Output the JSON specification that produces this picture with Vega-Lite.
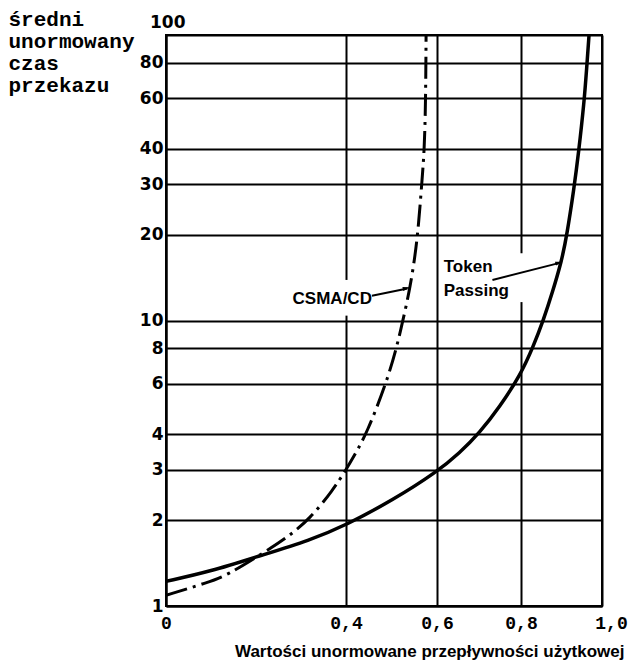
{
  "$schema": "https://vega.github.io/schema/vega-lite/v6.json",
  "autosize": {"type": "none"},
  "width": 436,
  "height": 571,
  "padding": {"left": 166, "top": 35, "right": 28, "bottom": 55},
  "background": "white",
  "config": {"view": {"stroke": "black", "strokeWidth": 2}},
  "datasets": {
    "token": [
      {"x": 0, "y": 1.22}, {"x": 0.098, "y": 1.32}, {"x": 0.209, "y": 1.50},
      {"x": 0.32, "y": 1.70}, {"x": 0.4, "y": 1.92}, {"x": 0.503, "y": 2.35},
      {"x": 0.6, "y": 2.95}, {"x": 0.654, "y": 3.44}, {"x": 0.701, "y": 4.04},
      {"x": 0.75, "y": 5.0}, {"x": 0.8, "y": 6.5}, {"x": 0.83, "y": 8.1},
      {"x": 0.855, "y": 10.0}, {"x": 0.878, "y": 12.6}, {"x": 0.9, "y": 16.1},
      {"x": 0.913, "y": 19.8}, {"x": 0.931, "y": 29.1}, {"x": 0.942, "y": 38.5},
      {"x": 0.956, "y": 58.4}, {"x": 0.962, "y": 76}, {"x": 0.968, "y": 100}
    ],
    "csma": [
      {"x": 0, "y": 1.09}, {"x": 0.094, "y": 1.21}, {"x": 0.135, "y": 1.28},
      {"x": 0.209, "y": 1.51}, {"x": 0.268, "y": 1.73}, {"x": 0.32, "y": 2.02},
      {"x": 0.372, "y": 2.56}, {"x": 0.4, "y": 3.0}, {"x": 0.42, "y": 3.4},
      {"x": 0.446, "y": 4.04}, {"x": 0.488, "y": 6.0}, {"x": 0.511, "y": 8.0},
      {"x": 0.525, "y": 10.0}, {"x": 0.541, "y": 13.0}, {"x": 0.557, "y": 19.0},
      {"x": 0.567, "y": 31}, {"x": 0.572, "y": 39}, {"x": 0.575, "y": 57.6},
      {"x": 0.576, "y": 100}
    ],
    "gaps": [
      {"x": 0.4, "y": 10.4, "y2": 13.87},
      {"x": 0.8, "y": 11.6, "y2": 17.2}
    ],
    "arrows": [
      {"arrow": "csma", "x": 0.457, "y": 12.2},
      {"arrow": "csma", "x": 0.535, "y": 12.95},
      {"arrow": "token", "x": 0.732, "y": 13.87},
      {"arrow": "token", "x": 0.898, "y": 15.95}
    ],
    "heads": [
      {"x": 0.541, "y": 13.07, "angle": -13},
      {"x": 0.903, "y": 16.07, "angle": -15}
    ],
    "csmaLabel": [
      {"x": 0.457, "y": 11.9, "text": "CSMA/CD"}
    ],
    "tokenLabel": [
      {"x": 0.616, "y": 15.4, "text": "Token"},
      {"x": 0.616, "y": 12.7, "text": "Passing"}
    ]
  },
  "layer": [
    {
      "data": {"name": "gaps"},
      "mark": {"type": "rule", "color": "white", "strokeWidth": 5},
      "encoding": {
        "x": {
          "field": "x", "type": "quantitative",
          "scale": {"domain": [0, 0.4, 0.6, 0.8, 1], "range": [0, 180, 271, 355, 436], "nice": false},
          "axis": {
            "values": [0, 0.4, 0.6, 0.8, 1],
            "labelExpr": "datum.value == 0 ? '0' : replace(format(datum.value, '.1f'), '.', ',')",
            "labelFont": "Liberation Mono", "labelFontWeight": "bold", "labelFontSize": 18,
            "labelColor": "black", "labelPadding": 8, "labelFlush": false,
            "labelOffset": {"condition": {"test": "datum.value === 1", "value": 9}, "value": 0},
            "ticks": false, "domainColor": "black", "domainWidth": 2,
            "grid": true, "gridColor": "black", "gridWidth": 2, "gridOpacity": 1,
            "title": "Wartości unormowane przepływności użytkowej",
            "titleFont": "Liberation Sans", "titleFontWeight": "bold", "titleFontSize": 17,
            "titleColor": "black", "titleAlign": "right", "titleAnchor": "end",
            "titleX": 458, "titleY": 50, "titleBaseline": "alphabetic"
          }
        },
        "y": {
          "field": "y", "type": "quantitative",
          "scale": {"type": "log", "domain": [1, 100], "nice": false},
          "axis": {
            "values": [1, 2, 3, 4, 6, 8, 10, 20, 30, 40, 60, 80, 100],
            "labelFont": "DejaVu Sans", "labelFontWeight": "bold", "labelFontSize": 17,
            "labelColor": "black", "labelFlush": false,
            "labelPadding": {"condition": {"test": "datum.value === 100", "value": -19}, "value": 3},
            "labelOffset": {"condition": {"test": "datum.value === 100", "value": -13}, "value": 0},
            "ticks": false, "domainColor": "black", "domainWidth": 2,
            "grid": true, "gridColor": "black", "gridWidth": 2, "gridOpacity": 1,
            "title": ["średni", "unormowany", "czas", "przekazu"],
            "titleFont": "Liberation Mono", "titleFontWeight": "bold", "titleFontSize": 21,
            "titleColor": "black", "titleAngle": 0, "titleAlign": "left", "titleBaseline": "top",
            "titleX": -158, "titleY": -27, "titleLineHeight": 22
          }
        },
        "y2": {"field": "y2"}
      }
    },
    {
      "data": {"name": "token"},
      "mark": {"type": "line", "color": "black", "strokeWidth": 3.5, "interpolate": "basis", "clip": true},
      "encoding": {
        "x": {"field": "x", "type": "quantitative"},
        "y": {"field": "y", "type": "quantitative"}
      }
    },
    {
      "data": {"name": "csma"},
      "mark": {"type": "line", "color": "black", "strokeWidth": 3, "strokeDash": [22, 6, 3, 6], "interpolate": "basis", "clip": true},
      "encoding": {
        "x": {"field": "x", "type": "quantitative"},
        "y": {"field": "y", "type": "quantitative"}
      }
    },
    {
      "data": {"name": "arrows"},
      "mark": {"type": "line", "color": "black", "strokeWidth": 2},
      "encoding": {
        "detail": {"field": "arrow"},
        "x": {"field": "x", "type": "quantitative"},
        "y": {"field": "y", "type": "quantitative"}
      }
    },
    {
      "data": {"name": "heads"},
      "mark": {"type": "point", "shape": "M0,0L-2,-0.55L-2,0.55Z", "filled": true, "color": "black", "size": 56, "opacity": 1},
      "encoding": {
        "x": {"field": "x", "type": "quantitative"},
        "y": {"field": "y", "type": "quantitative"},
        "angle": {"field": "angle", "type": "quantitative", "scale": null}
      }
    },
    {
      "data": {"name": "csmaLabel"},
      "mark": {"type": "text", "font": "Liberation Sans", "fontWeight": "bold", "fontSize": 17, "color": "black", "baseline": "middle", "align": "right"},
      "encoding": {
        "x": {"field": "x", "type": "quantitative"},
        "y": {"field": "y", "type": "quantitative"},
        "text": {"field": "text"}
      }
    },
    {
      "data": {"name": "tokenLabel"},
      "mark": {"type": "text", "font": "Liberation Sans", "fontWeight": "bold", "fontSize": 17, "color": "black", "baseline": "middle", "align": "left"},
      "encoding": {
        "x": {"field": "x", "type": "quantitative"},
        "y": {"field": "y", "type": "quantitative"},
        "text": {"field": "text"}
      }
    }
  ]
}
